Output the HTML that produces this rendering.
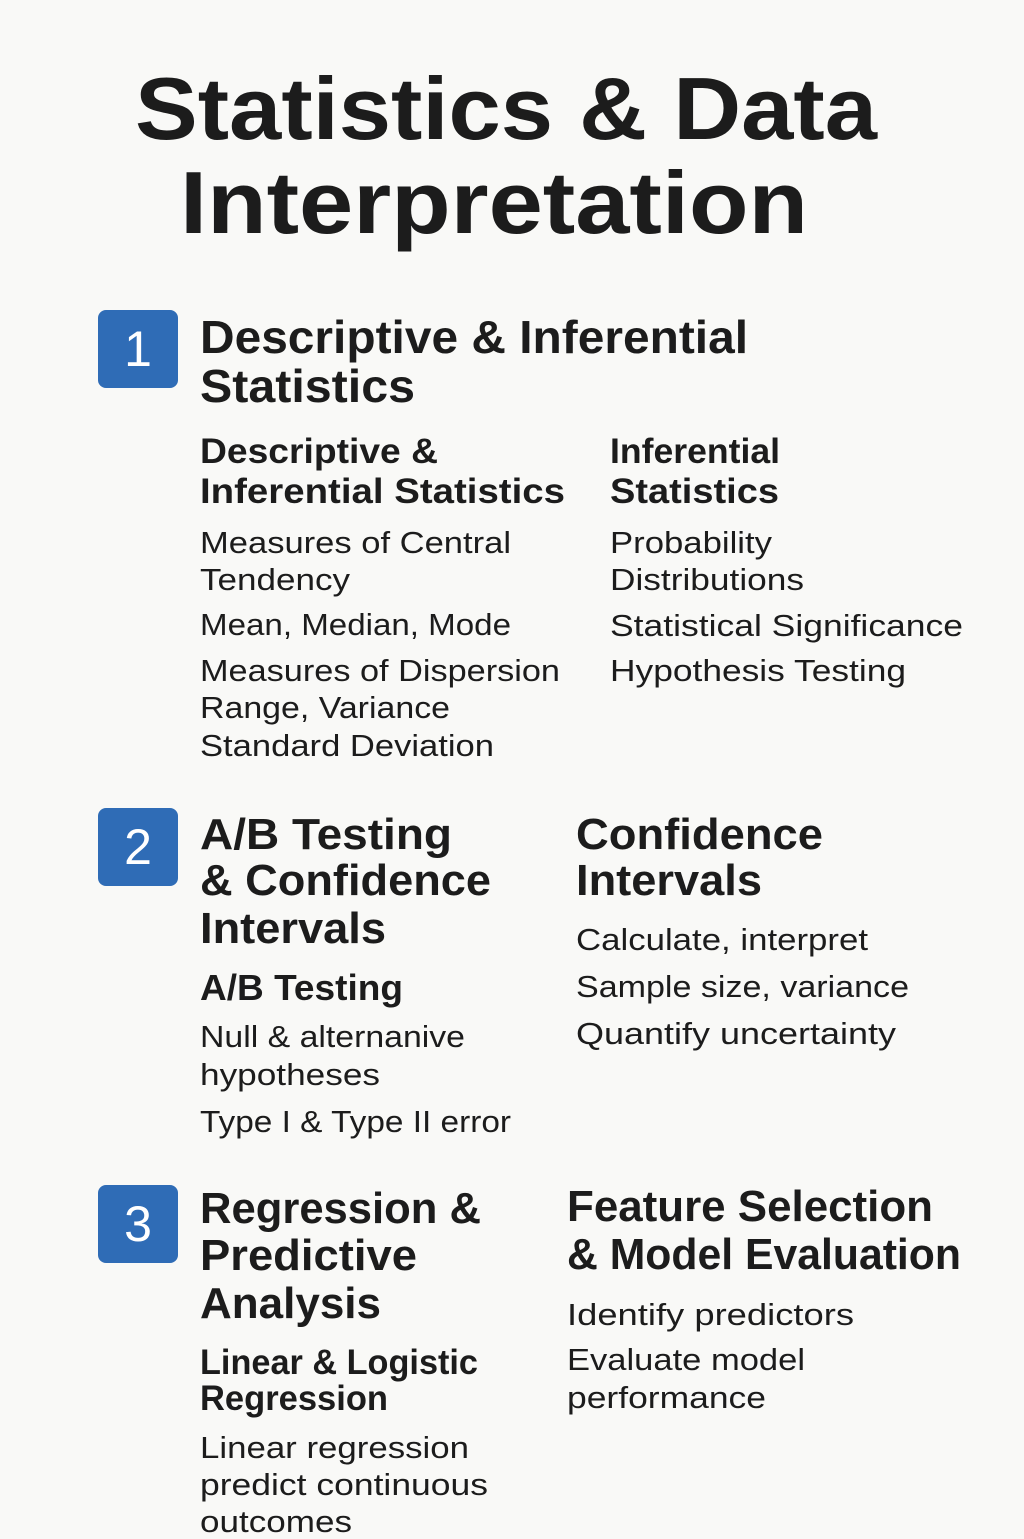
<!DOCTYPE html>
<html><head><meta charset="utf-8">
<style>
html,body{margin:0;padding:0}
body{width:1024px;height:1536px;background:#f9f9f7;position:relative;overflow:hidden;font-family:"Liberation Sans",sans-serif;color:#1c1c1c}
.t{position:absolute;white-space:nowrap;line-height:1;transform-origin:0 0}
.b{font-weight:bold}
.badge{position:absolute;left:98px;width:80px;height:78px;background:#2f6cb6;border-radius:8px;color:#fff;font-size:50px;text-align:center;line-height:78px}
</style></head>
<body>
<div id="root"></div>
<script>
const lines = [
 // text, x, baseline, size, bold, name, targetWidth
 ["Statistics & Data",135,138,88,1,"title-line-1",742],
 ["Interpretation",180,232,88,1,"title-line-2",628],
 ["Descriptive & Inferential",200,352,46,1,"section-1-heading",548],
 ["Statistics",200,401,46,1,"section-1-heading-2",215],
 ["Descriptive &",200,463,35,1,"descriptive-subheading",238],
 ["Inferential Statistics",200,503,35,1,"descriptive-subheading-2",365],
 ["Inferential",610,463,35,1,"inferential-subheading",170],
 ["Statistics",610,503,35,1,"inferential-subheading-2",169],
 ["Measures of Central",200,553,31,0,"item-central-tendency",311],
 ["Tendency",200,590,31,0,"item-central-tendency-2",150],
 ["Mean, Median, Mode",200,635,31,0,"item-mean-median-mode",311],
 ["Measures of Dispersion",200,681,31,0,"item-dispersion",360],
 ["Range, Variance",200,718,31,0,"item-range-variance",250],
 ["Standard Deviation",200,756,31,0,"item-standard-deviation",294],
 ["Probability",610,553,31,0,"item-probability",162],
 ["Distributions",610,590,31,0,"item-distributions",194],
 ["Statistical Significance",610,636,31,0,"item-significance",353],
 ["Hypothesis Testing",610,681,31,0,"item-hypothesis-testing",296],
 ["A/B Testing",200,850,44,1,"section-2-heading",252],
 ["& Confidence",200,896,44,1,"section-2-heading-2",291],
 ["Intervals",200,944,44,1,"section-2-heading-3",186],
 ["Confidence",576,850,44,1,"confidence-heading",247],
 ["Intervals",576,896,44,1,"confidence-heading-2",186],
 ["A/B Testing",200,1000,36,1,"ab-testing-subheading",203],
 ["Null & alternanive",200,1047,31,0,"item-null-alt",265],
 ["hypotheses",200,1085,31,0,"item-null-alt-2",180],
 ["Type I & Type II error",200,1132,31,0,"item-type-errors",311],
 ["Calculate, interpret",576,950,31,0,"item-calculate",292],
 ["Sample size, variance",576,997,31,0,"item-sample-size",333],
 ["Quantify uncertainty",576,1044,31,0,"item-uncertainty",320],
 ["Regression &",200,1224,44,1,"section-3-heading",281],
 ["Predictive",200,1271,44,1,"section-3-heading-2",217],
 ["Analysis",200,1319,44,1,"section-3-heading-3",181],
 ["Feature Selection",567,1222,44,1,"feature-heading",366],
 ["& Model Evaluation",567,1270,44,1,"feature-heading-2",394],
 ["Linear & Logistic",200,1374,35,1,"regression-subheading",278],
 ["Regression",200,1410,35,1,"regression-subheading-2",188],
 ["Linear regression",200,1458,31,0,"item-linear-regression",269],
 ["predict continuous",200,1495,31,0,"item-linear-regression-2",288],
 ["outcomes",200,1532,31,0,"item-linear-regression-3",152],
 ["Identify predictors",567,1325,31,0,"item-identify-predictors",287],
 ["Evaluate model",567,1370,31,0,"item-evaluate-model",238],
 ["performance",567,1408,31,0,"item-evaluate-model-2",199]
];
const badges = [["1",310],["2",808],["3",1185]];
const root = document.getElementById('root');
lines.forEach(l=>{
  const d=document.createElement('div');
  d.className='t'+(l[4]?' b':'');
  d.textContent=l[0];
  d.style.fontSize=l[3]+'px';
  d.style.top=(l[2]-0.83*l[3])+'px';
  d.style.left=l[1]+'px';
  
  
  root.appendChild(d);
  const w=d.getBoundingClientRect().width;
  if(w>0) d.style.transform='scaleX('+(l[6]/w)+')';
});
badges.forEach(b=>{
  const d=document.createElement('div');
  d.className='badge';
  d.textContent=b[0];
  d.style.top=b[1]+'px';
  
  
  root.appendChild(d);
});
</script>
</body></html>
